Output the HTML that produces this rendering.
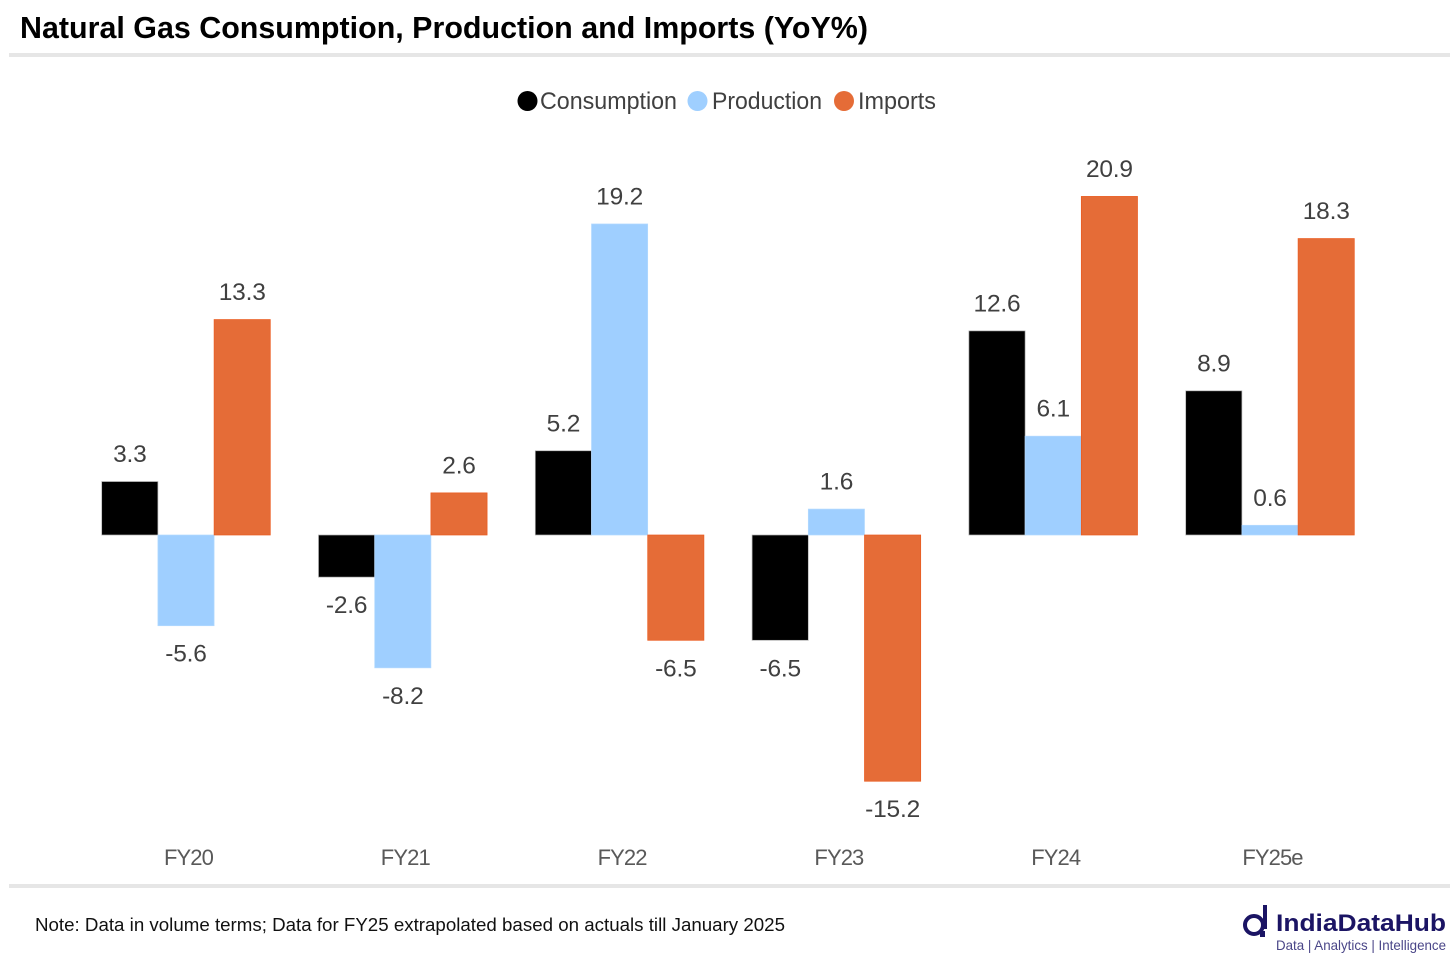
<!DOCTYPE html>
<html lang="en">
<head>
<meta charset="utf-8">
<title>Natural Gas Consumption, Production and Imports (YoY%)</title>
<style>
html,body{margin:0;padding:0;background:#fff;width:1456px;height:961px;overflow:hidden}
svg{display:block;font-family:"Liberation Sans",sans-serif}
</style>
</head>
<body>
<svg id="chart" width="1456" height="961" viewBox="0 0 1456 961" xmlns="http://www.w3.org/2000/svg">
  <rect x="0" y="0" width="1456" height="961" fill="#ffffff"/>
  <text x="20" y="38" font-size="31" font-weight="700" fill="#000" textLength="848" lengthAdjust="spacingAndGlyphs">Natural Gas Consumption, Production and Imports (YoY%)</text>
  <rect x="9" y="53" width="1441" height="4" fill="#e6e6e6"/>

  <g font-size="24" fill="#404040">
    <circle cx="527.5" cy="101" r="10" fill="#000"/>
    <text x="540" y="109" textLength="137" lengthAdjust="spacingAndGlyphs">Consumption</text>
    <circle cx="697.5" cy="101" r="10" fill="#9fcfff"/>
    <text x="712" y="109" textLength="110" lengthAdjust="spacingAndGlyphs">Production</text>
    <circle cx="844" cy="101" r="10" fill="#e56c37"/>
    <text x="858" y="109" textLength="78" lengthAdjust="spacingAndGlyphs">Imports</text>
  </g>

  <g id="bars"></g>
  <g id="labels"></g>
  <g id="xaxis"></g>

  <rect x="9" y="884" width="1441" height="4" fill="#e6e6e6"/>
  <text x="35" y="931" font-size="18" fill="#111" textLength="750" lengthAdjust="spacingAndGlyphs">Note: Data in volume terms; Data for FY25 extrapolated based on actuals till January 2025</text>

  <g>
    <circle cx="1254" cy="925" r="9" fill="none" stroke="#1b1464" stroke-width="4"/>
    <rect x="1263" y="905" width="4" height="24" fill="#1b1464"/>
    <rect x="1260" y="931" width="5" height="6" fill="#1b1464"/>
    <text x="1276" y="931" font-size="24" font-weight="700" fill="#1b1464" textLength="170" lengthAdjust="spacingAndGlyphs">IndiaDataHub</text>
    <text x="1276" y="950" font-size="14" fill="#4a4688" textLength="170" lengthAdjust="spacingAndGlyphs">Data | Analytics | Intelligence</text>
  </g>
</svg>
<script>
const categories = ["FY20", "FY21", "FY22", "FY23", "FY24", "FY25e"];
const consumption = [3.3, -2.6, 5.2, -6.5, 12.6, 8.9];
const production = [-5.6, -8.2, 19.2, 1.6, 6.1, 0.6];
const imports = [13.3, 2.6, -6.5, -15.2, 20.9, 18.3];

const seriesNames = ["consumption", "production", "imports"];
const seriesValues = [consumption, production, imports];
const seriesFill = ["#000000", "#9fcfff", "#e56c37"];
const seriesEdge = ["#b0b0b0", "#b4daff", "#ea5a1e"];

const NS = "http://www.w3.org/2000/svg";
const zeroY = 535;
const pxPerUnit = 16.2;
const firstCenter = 186;
const groupStep = 216.8;
const barWidth = 56.2;

function yScale(v) { return zeroY - v * pxPerUnit; }
function xCenter(i) { return firstCenter + i * groupStep; }
function barLeft(i, s) { return xCenter(i) - 1.5 * barWidth + s * barWidth; }

const barsLayer = document.getElementById("bars");
const labelsLayer = document.getElementById("labels");
const axisLayer = document.getElementById("xaxis");

categories.forEach(function (cat, i) {
  seriesValues.forEach(function (vals, s) {
    const v = vals[i];
    const top = Math.min(yScale(v), zeroY);
    const h = Math.abs(yScale(v) - zeroY);

    const r = document.createElementNS(NS, "rect");
    
    
    r.setAttribute("x", barLeft(i, s).toFixed(2));
    r.setAttribute("y", top.toFixed(2));
    r.setAttribute("width", barWidth);
    r.setAttribute("height", h.toFixed(2));
    r.setAttribute("fill", seriesFill[s]);
    r.setAttribute("stroke", seriesEdge[s]);
    r.setAttribute("stroke-width", "0.7");
    barsLayer.appendChild(r);

    const t = document.createElementNS(NS, "text");
    
    
    t.setAttribute("x", (barLeft(i, s) + barWidth / 2).toFixed(2));
    t.setAttribute("y", (v >= 0 ? yScale(v) - 19.5 : yScale(v) + 36).toFixed(2));
    t.setAttribute("text-anchor", "middle");
    t.setAttribute("font-size", "24.5");
    t.setAttribute("letter-spacing", "-0.2");
    t.setAttribute("fill", "#404040");
    t.textContent = v.toFixed(1);
    labelsLayer.appendChild(t);
  });

  const c = document.createElementNS(NS, "text");
  
  
  c.setAttribute("x", (xCenter(i) + 2.5).toFixed(2));
  c.setAttribute("y", "865");
  c.setAttribute("text-anchor", "middle");
  c.setAttribute("font-size", "22");
  c.setAttribute("letter-spacing", "-0.9");
  c.setAttribute("fill", "#595959");
  c.textContent = cat;
  axisLayer.appendChild(c);
});
</script>
</body>
</html>
